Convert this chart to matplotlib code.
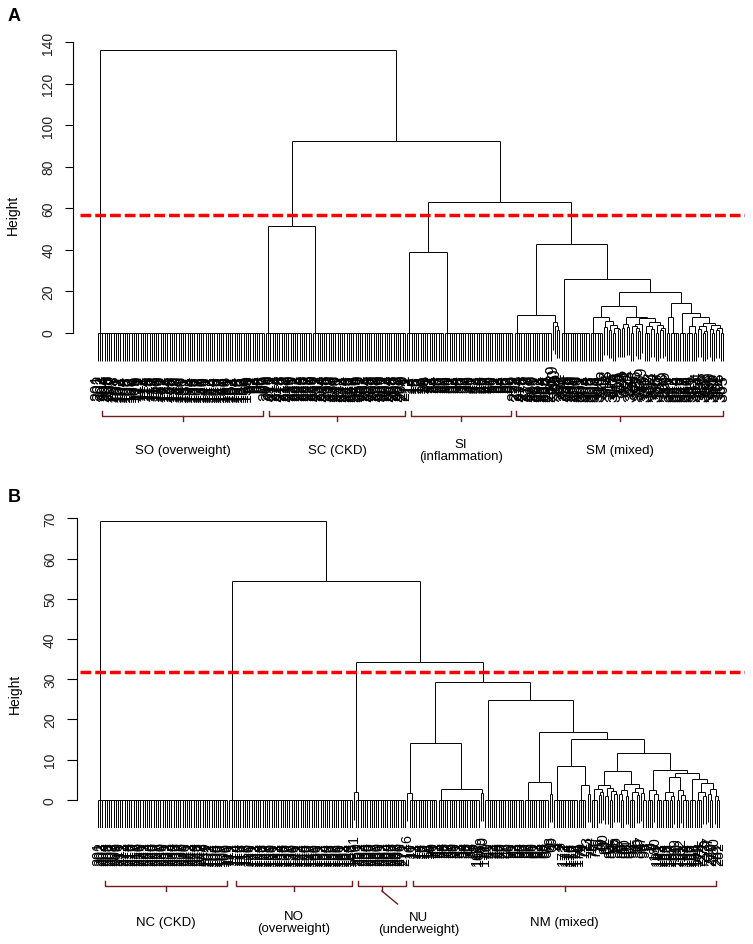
import numpy as np
import matplotlib.pyplot as plt
from matplotlib.collections import LineCollection
from matplotlib.transforms import blended_transform_factory

plt.rcParams['font.family'] = ['Liberation Sans', 'DejaVu Sans']

# ---------------- panel A ----------------
# blocks of tied leaves (merged at height 0), in left-to-right order
a_blocks = [75, 21, 42, 17, 31, 17, 1, 1, 1, 1, 13, 6,
            1, 1, 1, 1, 2, 1, 1,
            1, 1, 1, 1, 2, 1, 1, 1, 1,
            3, 1, 1, 2, 1, 1, 1,
            2, 4, 3, 3, 2, 1, 1, 2, 1, 1, 2, 1, 1, 2]
# merges, R hclust style: negative = block number, positive = earlier merge
a_left = [-9, -8, -7, -6, -13, -15, -18, -17, 6, 5, -12,
          -20, -22, 12, -26, -25, -24, 17, -30, -29, -33, 21, -32, 20, 18, 14, 11,
          -36, -41, -43, 29, -45, -47, 33, 32, 31, -39, 37, -38, 28, 27, -11, 4,
          -4, 44, -2, 46, -1]
a_right = [-10, 1, 2, 3, -14, -16, -19, 7, 8, 9, 10,
           -21, -23, 13, -27, 15, 16, -28, -31, 19, -34, -35, 22, 23, 24, 25, 26,
           -37, -42, -44, 30, -46, -48, -49, 34, 35, -40, 36, 38, 39, 40, 41, 42,
           -5, 43, -3, 45, 47]
a_height = [1.2, 3.3, 5.2, 8.6, 2.6, 1.4, 1.6, 2.2, 3.5, 5.4, 7.6,
            2.0, 2.8, 4.3, 0.9, 2.4, 3.0, 3.9, 1.8, 3.1, 1.2, 2.3, 3.4, 5.0, 6.8, 7.6, 12.6,
            7.3, 1.6, 0.9, 3.0, 1.9, 1.1, 2.2, 3.4, 4.5, 3.2, 7.7, 9.2, 14.2, 19.4, 25.8, 42.5,
            39.0, 62.7, 51.1, 92.5, 136.0]
a_ids = [*range(201, 209), *range(101, 160), *range(60, 68),
         *range(209, 272), *range(12, 60), *range(272, 366)]
a_cut = 56.6
a_groups = ['SO (overweight)', 'SC (CKD)', 'SI\n(inflammation)', 'SM (mixed)']
a_group_start = [1.8, 76.3, 139.7, 186.6]
a_group_end = [73.7, 137.1, 184.4, 279.0]

# ---------------- panel B ----------------
b_blocks = [59, 56, 1, 23, 1, 13, 19, 1, 1, 18, 11, 1, 1, 11, 4, 1, 1,
            3, 1, 1, 1, 1, 1, 2, 1, 1,
            1, 2, 1, 1, 3, 1, 1, 1, 2,
            3, 1, 3, 3, 2, 1, 2, 1, 3,
            3, 3, 1, 1, 1, 2, 1, 2]
b_left = [-3, -5, -8, -7, 2, -12, -11, -16, -15, -14,
          -19, 11, -18, -22, -25, -24, 14, 13, -27, -29, 19, -32, -31, -34, 23, 21, 18,
          -37, -36, -40, -39, -43, -42, 31, -47, -46, -49, -51, 37, 36, -45, 34, 29,
          27, 10, 7, -10, 5, 1, -2, -1]
b_right = [-4, -6, -9, 3, 4, -13, 6, -17, 8, 9,
           -20, -21, 12, -23, -26, 15, 16, 17, -28, -30, 20, -33, 22, -35, 24, 25, 26,
           -38, 28, -41, 30, -44, 32, 33, -48, 35, -50, -52, 38, 39, 40, 41, 42,
           43, 44, 45, 46, 47, 48, 49, 50]
b_height = [1.8, 1.6, 1.6, 2.7, 14.2, 1.5, 4.3, 1.5, 3.7, 8.3,
            1.2, 2.0, 2.6, 1.0, 1.4, 2.2, 2.9, 3.6, 1.3, 0.9, 2.5, 1.1, 2.0, 1.7, 3.0, 3.8, 7.1,
            1.4, 2.3, 1.0, 1.9, 1.2, 2.4, 5.6, 0.8, 1.8, 1.5, 1.0, 2.6, 4.2, 5.2, 6.7, 7.3,
            11.7, 15.2, 16.9, 24.7, 29.4, 34.2, 54.5, 69.3]
b_ids = [*range(201, 250), *range(101, 111), *range(111, 167), 1,
         *range(250, 273), 6,
         *range(10, 40), *range(167, 172), *range(40, 70), 2, 3, 4, 5,
         *range(172, 180), *range(70, 100), 7, 8, 9, *range(180, 200), *range(273, 283)]
b_cut = 31.8
b_groups = ['NC (CKD)', 'NO\n(overweight)', 'NU\n(underweight)', 'NM (mixed)']
b_group_start = [3.1, 61.9, 116.7, 141.6]
b_group_end = [57.8, 114.2, 138.4, 277.6]

W, H = 753, 945
fig = plt.figure(figsize=(W / 100, H / 100), dpi=100)


def fy(py):
    return 1 - py / H


def make_axes(first_px, last_px, nleaf, top_px, zero_px, ytop, ybot):
    # axes spans x 80..745 px; leaf 0 at first_px, last leaf at last_px
    s = (last_px - first_px) / (nleaf - 1)
    ppu = (zero_px - top_px) / ytop
    bot_px = zero_px - ybot * ppu
    ax = fig.add_axes([80 / W, fy(bot_px), 665 / W, (bot_px - top_px) / H])
    ax.set_xlim(-(first_px - 80) / s, nleaf - 1 + (745 - last_px) / s)
    ax.set_ylim(ybot, ytop)
    return ax


def draw_dendro(ax, blocks, left, right, height, ids, lab_size):
    hang = 0.1 * max(height)
    starts = np.concatenate([[0], np.cumsum(blocks)[:-1]])
    segs, leaves = [], []

    def block_x(k):
        s, n = starts[k], blocks[k]
        x = s + n - 1.0
        for j in range(n - 2, -1, -1):
            x = (s + j + x) / 2
        return x

    for k, n in enumerate(blocks):
        if n > 1:
            s = starts[k]
            segs.append([(s, 0), (s + n - 1, 0)])
            for j in range(n):
                segs.append([(s + j, 0), (s + j, -hang)])
                leaves.append((s + j, -hang))
    mx = []
    for l, r, h in zip(left, right, height):
        xs = []
        for c in (l, r):
            if c < 0:
                k = -c - 1
                x = block_x(k)
                if blocks[k] == 1:
                    segs.append([(x, h), (x, h - hang)])
                    leaves.append((x, h - hang))
                else:
                    segs.append([(x, h), (x, 0)])
            else:
                x = mx[c - 1]
                segs.append([(x, h), (x, height[c - 1])])
            xs.append(x)
        segs.append([(xs[0], h), (xs[1], h)])
        mx.append((xs[0] + xs[1]) / 2)
    ax.add_collection(LineCollection(segs, colors='black', linewidths=0.7))
    leaves.sort()
    for (x, y), lab in zip(leaves, ids):
        ax.annotate(str(lab), (x, y), xytext=(0, -9.5), textcoords='offset points',
                    rotation=90, ha='center', va='top', fontsize=lab_size,
                    annotation_clip=False)


def style_axis(ax, top, step, out, tlen, pad):
    for sp in ['top', 'right', 'bottom']:
        ax.spines[sp].set_visible(False)
    ax.spines['left'].set_bounds(0, top)
    ax.spines['left'].set_position(('outward', out))
    ax.spines['left'].set_linewidth(0.8)
    ax.set_xticks([])
    ax.set_yticks(range(0, top + 1, step))
    ax.tick_params(axis='y', length=tlen, width=0.8, pad=pad, labelsize=10,
                   labelrotation=90, labelcolor='#222222')
    for t in ax.get_yticklabels():
        t.set_va('center')


def brackets(ax, starts, ends, names, y_px, text_y):
    tr = blended_transform_factory(ax.transData, fig.transFigure)
    col = '#701c1c'
    for s, e, name in zip(starts, ends, names):
        c = (s + e) / 2
        ax.plot([s, s, e, e], [fy(y_px - 5), fy(y_px), fy(y_px), fy(y_px - 5)],
                color=col, lw=1.0, transform=tr, clip_on=False)
        ax.plot([c, c], [fy(y_px), fy(y_px + 5)], color=col, lw=1.0,
                transform=tr, clip_on=False)
        ax.text(c, fy(text_y), name, transform=tr, ha='center', va='center',
                fontsize=9.5, linespacing=1.05)


# ---- A ----
axA = make_axes(98, 723, sum(a_blocks), 43, 333.5, 140, -14)
draw_dendro(axA, a_blocks, a_left, a_right, a_height, a_ids, 11.5)
axA.axhline(a_cut, color='#ff0000', lw=2.5, ls=(0, (3.1, 1.15)))
style_axis(axA, 140, 20, 5, 6, 6.7)
brackets(axA, a_group_start, a_group_end, [g for g in a_groups], 417, 451)
fig.text(14 / W, fy(16.5), 'A', weight='bold', fontsize=13, ha='center', va='center')
fig.text(13 / W, fy(215), 'Height', rotation=90, ha='center', va='center', fontsize=10)

# ---- B ----
axB = make_axes(98, 719, sum(b_blocks), 519.3, 800.7, 70, -7)
draw_dendro(axB, b_blocks, b_left, b_right, b_height, b_ids, 10.3)
axB.axhline(b_cut, color='#ff0000', lw=2.5, ls=(0, (3.1, 1.15)))
style_axis(axB, 70, 10, 2.4, 7.2, 7)
names_b = [g if g[:2] != 'NU' else '' for g in b_groups]
brackets(axB, b_group_start, b_group_end, names_b, 887, 923)
trB = blended_transform_factory(axB.transData, fig.transFigure)
nu_c = (b_group_start[2] + b_group_end[2]) / 2
axB.plot([nu_c, nu_c + 7], [fy(892), fy(905)], color='#701c1c', lw=1.0,
         transform=trB, clip_on=False)
axB.text(nu_c + 16.4, fy(924), b_groups[2], transform=trB, ha='center', va='center',
         fontsize=9.5, linespacing=1.05)
fig.text(14.5 / W, fy(498), 'B', weight='bold', fontsize=13, ha='center', va='center')
fig.text(15 / W, fy(694), 'Height', rotation=90, ha='center', va='center', fontsize=10)

fig.savefig('out.png', dpi=100)
